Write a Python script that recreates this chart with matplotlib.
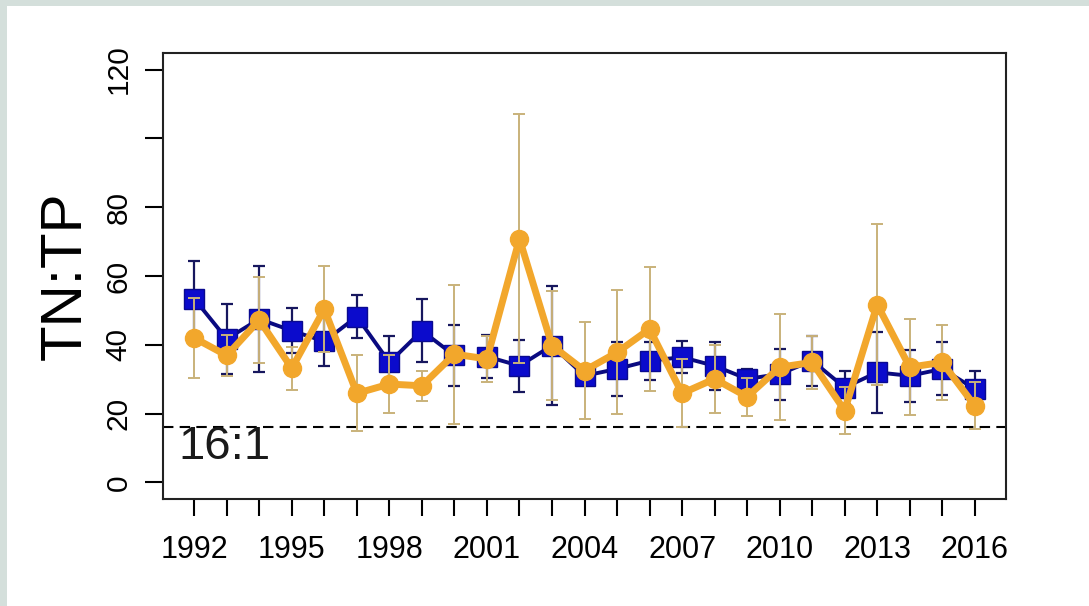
import numpy as np
import matplotlib.pyplot as plt
from matplotlib.patches import Rectangle

# ── Data ───────────────────────────────────────────────────
years = np.arange(1992, 2017)

blue_mean = [53.4, 41.7, 47.5, 44.1, 41.0, 48.2, 34.9, 44.1, 36.9, 36.6, 33.9, 39.8, 31.0,
             33.0, 35.4, 36.4, 33.9, 30.1, 31.5, 35.4, 27.6, 32.0, 31.0, 33.0, 27.2]
blue_err  = [11.0, 10.2, 15.5, 6.6, 7.2, 6.3, 7.6, 9.2, 8.9, 6.3, 7.5, 17.3, 2.8,
             7.8, 5.5, 4.7, 7.0, 3.0, 7.4, 7.3, 4.9, 11.8, 7.6, 7.7, 5.3]

orange_mean = [42.0, 36.9, 47.2, 33.2, 50.4, 25.9, 28.6, 28.1, 37.3, 35.9, 70.8, 39.8, 32.5,
               37.8, 44.6, 25.9, 30.1, 24.9, 33.5, 34.9, 20.9, 51.7, 33.5, 34.9, 22.3]
orange_err  = [11.6, 5.9, 12.6, 6.3, 12.4, 11.0, 8.5, 4.3, 20.2, 6.8, 36.2, 15.7, 14.0,
               18.0, 18.0, 9.9, 9.8, 5.5, 15.4, 7.6, 6.8, 23.3, 13.9, 11.0, 6.8]

ratio_line = 16
ytick_vals = [0, 20, 40, 60, 80, 100, 120]
ytick_labels = ['0', '20', '40', '60', '80', '', '120']
xtick_labels = [str(y) if (y - 1992) % 3 == 0 else '' for y in years]

# ── Figure ─────────────────────────────────────────────────
plt.rcParams['font.family'] = ['Liberation Sans', 'DejaVu Sans']

fig = plt.figure(figsize=(10.89, 6.06), dpi=100, facecolor='#d4dfdb')
panel = Rectangle((7 / 1089, 0), 1 - 7 / 1089, 1 - 6 / 606,
                  transform=fig.transFigure, facecolor='white',
                  edgecolor='none', zorder=-10)
fig.add_artist(panel)

ax = fig.add_axes([163 / 1089, 1 - 499 / 606, (1006 - 163) / 1089, (499 - 53) / 606])
ax.set_zorder(5)
ax.set_facecolor('white')

ax.errorbar(years, blue_mean, yerr=blue_err, fmt='none', ecolor='#17175e',
            elinewidth=1.6, capsize=4.5, capthick=1.6, zorder=2)
ax.plot(years, blue_mean, color='#0a0a80', lw=2.8, marker='s', markersize=14,
        markerfacecolor='#0b0bcc', markeredgecolor='#0a0a90', zorder=3)

ax.errorbar(years, orange_mean, yerr=orange_err, fmt='none', ecolor='#c9b27a',
            elinewidth=1.4, capsize=4.5, capthick=1.4, zorder=4)
ax.plot(years, orange_mean, color='#f2a72c', lw=5, marker='o', markersize=13,
        markerfacecolor='#f2a72c', markeredgecolor='#f2a72c', zorder=5)

ax.axhline(ratio_line, color='black', lw=1.5, ls=(0, (5, 3)), zorder=1)
ax.text(1991.5, 16.8, '16:1', fontsize=34, va='top', ha='left', color='#1a1a1a')

ax.set_xlim(1991.04, 2016.96)
ax.set_ylim(-4.8, 124.8)

ax.set_yticks(ytick_vals)
ax.set_yticklabels(ytick_labels, rotation=90, va='center', fontsize=21.5)
ax.set_xticks(years)
ax.set_xticklabels(xtick_labels, fontsize=22)

ax.tick_params(axis='y', length=13, width=1.5, pad=9)
ax.tick_params(axis='x', length=12, width=1.5, pad=14)
for spine in ax.spines.values():
    spine.set_linewidth(1.5)
    spine.set_color('#222222')

ax.set_ylabel('TN:TP', fontsize=42)
ax.yaxis.set_label_coords(-0.083, 0.5)

fig.savefig('out.png', dpi=100, facecolor=fig.get_facecolor())
